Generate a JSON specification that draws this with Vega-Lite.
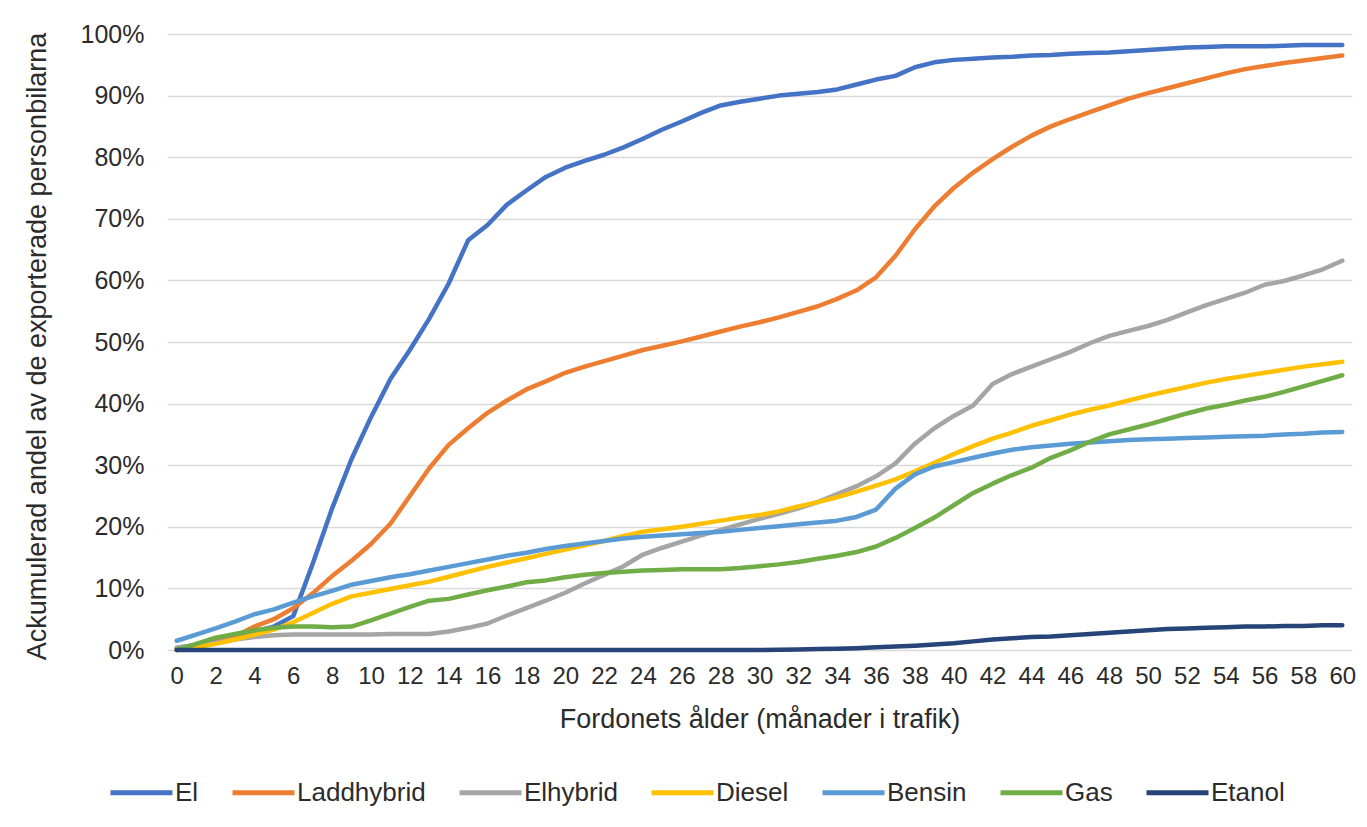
{
"$schema": "https://vega.github.io/schema/vega-lite/v6.json",
"width": 1185, "height": 616,
"autosize": {"type": "none"},
"padding": {"left": 167, "top": 34, "right": 15, "bottom": 177},
"background": "white",
"config": {"view": {"stroke": null}, "font": "Liberation Sans"},
"data": {"values": [
{"m":0,"s":"El","v":0.3},{"m":1,"s":"El","v":0.8},{"m":2,"s":"El","v":1.5},{"m":3,"s":"El","v":2.3},{"m":4,"s":"El","v":3.0},{"m":5,"s":"El","v":3.8},{"m":6,"s":"El","v":5.5},{"m":7,"s":"El","v":14},{"m":8,"s":"El","v":23},{"m":9,"s":"El","v":31},{"m":10,"s":"El","v":37.8},{"m":11,"s":"El","v":44},{"m":12,"s":"El","v":48.7},{"m":13,"s":"El","v":53.8},{"m":14,"s":"El","v":59.5},{"m":15,"s":"El","v":66.5},{"m":16,"s":"El","v":69},{"m":17,"s":"El","v":72.3},{"m":18,"s":"El","v":74.6},{"m":19,"s":"El","v":76.8},{"m":20,"s":"El","v":78.3},{"m":21,"s":"El","v":79.4},{"m":22,"s":"El","v":80.4},{"m":23,"s":"El","v":81.6},{"m":24,"s":"El","v":83},{"m":25,"s":"El","v":84.5},{"m":26,"s":"El","v":85.8},{"m":27,"s":"El","v":87.2},{"m":28,"s":"El","v":88.4},{"m":29,"s":"El","v":89},{"m":30,"s":"El","v":89.5},{"m":31,"s":"El","v":90},{"m":32,"s":"El","v":90.3},{"m":33,"s":"El","v":90.6},{"m":34,"s":"El","v":91},{"m":35,"s":"El","v":91.8},{"m":36,"s":"El","v":92.6},{"m":37,"s":"El","v":93.2},{"m":38,"s":"El","v":94.6},{"m":39,"s":"El","v":95.4},{"m":40,"s":"El","v":95.8},{"m":41,"s":"El","v":96},{"m":42,"s":"El","v":96.2},{"m":43,"s":"El","v":96.3},{"m":44,"s":"El","v":96.5},{"m":45,"s":"El","v":96.6},{"m":46,"s":"El","v":96.8},{"m":47,"s":"El","v":96.9},{"m":48,"s":"El","v":97},{"m":49,"s":"El","v":97.2},{"m":50,"s":"El","v":97.4},{"m":51,"s":"El","v":97.6},{"m":52,"s":"El","v":97.8},{"m":53,"s":"El","v":97.9},{"m":54,"s":"El","v":98},{"m":55,"s":"El","v":98},{"m":56,"s":"El","v":98},{"m":57,"s":"El","v":98.1},{"m":58,"s":"El","v":98.2},{"m":59,"s":"El","v":98.2},{"m":60,"s":"El","v":98.2},
{"m":0,"s":"Laddhybrid","v":0},{"m":1,"s":"Laddhybrid","v":0.5},{"m":2,"s":"Laddhybrid","v":1.2},{"m":3,"s":"Laddhybrid","v":2.2},{"m":4,"s":"Laddhybrid","v":3.8},{"m":5,"s":"Laddhybrid","v":5},{"m":6,"s":"Laddhybrid","v":6.8},{"m":7,"s":"Laddhybrid","v":9.2},{"m":8,"s":"Laddhybrid","v":12},{"m":9,"s":"Laddhybrid","v":14.5},{"m":10,"s":"Laddhybrid","v":17.2},{"m":11,"s":"Laddhybrid","v":20.5},{"m":12,"s":"Laddhybrid","v":25},{"m":13,"s":"Laddhybrid","v":29.5},{"m":14,"s":"Laddhybrid","v":33.3},{"m":15,"s":"Laddhybrid","v":36},{"m":16,"s":"Laddhybrid","v":38.5},{"m":17,"s":"Laddhybrid","v":40.5},{"m":18,"s":"Laddhybrid","v":42.3},{"m":19,"s":"Laddhybrid","v":43.6},{"m":20,"s":"Laddhybrid","v":45},{"m":21,"s":"Laddhybrid","v":46},{"m":22,"s":"Laddhybrid","v":46.9},{"m":23,"s":"Laddhybrid","v":47.8},{"m":24,"s":"Laddhybrid","v":48.7},{"m":25,"s":"Laddhybrid","v":49.4},{"m":26,"s":"Laddhybrid","v":50.1},{"m":27,"s":"Laddhybrid","v":50.9},{"m":28,"s":"Laddhybrid","v":51.7},{"m":29,"s":"Laddhybrid","v":52.5},{"m":30,"s":"Laddhybrid","v":53.2},{"m":31,"s":"Laddhybrid","v":54},{"m":32,"s":"Laddhybrid","v":54.9},{"m":33,"s":"Laddhybrid","v":55.8},{"m":34,"s":"Laddhybrid","v":57},{"m":35,"s":"Laddhybrid","v":58.4},{"m":36,"s":"Laddhybrid","v":60.5},{"m":37,"s":"Laddhybrid","v":64},{"m":38,"s":"Laddhybrid","v":68.3},{"m":39,"s":"Laddhybrid","v":72},{"m":40,"s":"Laddhybrid","v":75},{"m":41,"s":"Laddhybrid","v":77.5},{"m":42,"s":"Laddhybrid","v":79.7},{"m":43,"s":"Laddhybrid","v":81.7},{"m":44,"s":"Laddhybrid","v":83.5},{"m":45,"s":"Laddhybrid","v":85},{"m":46,"s":"Laddhybrid","v":86.2},{"m":47,"s":"Laddhybrid","v":87.3},{"m":48,"s":"Laddhybrid","v":88.4},{"m":49,"s":"Laddhybrid","v":89.5},{"m":50,"s":"Laddhybrid","v":90.4},{"m":51,"s":"Laddhybrid","v":91.2},{"m":52,"s":"Laddhybrid","v":92},{"m":53,"s":"Laddhybrid","v":92.8},{"m":54,"s":"Laddhybrid","v":93.6},{"m":55,"s":"Laddhybrid","v":94.3},{"m":56,"s":"Laddhybrid","v":94.8},{"m":57,"s":"Laddhybrid","v":95.3},{"m":58,"s":"Laddhybrid","v":95.7},{"m":59,"s":"Laddhybrid","v":96.1},{"m":60,"s":"Laddhybrid","v":96.5},
{"m":0,"s":"Elhybrid","v":0.4},{"m":1,"s":"Elhybrid","v":0.8},{"m":2,"s":"Elhybrid","v":1.2},{"m":3,"s":"Elhybrid","v":1.7},{"m":4,"s":"Elhybrid","v":2.1},{"m":5,"s":"Elhybrid","v":2.4},{"m":6,"s":"Elhybrid","v":2.5},{"m":7,"s":"Elhybrid","v":2.5},{"m":8,"s":"Elhybrid","v":2.5},{"m":9,"s":"Elhybrid","v":2.5},{"m":10,"s":"Elhybrid","v":2.5},{"m":11,"s":"Elhybrid","v":2.6},{"m":12,"s":"Elhybrid","v":2.6},{"m":13,"s":"Elhybrid","v":2.6},{"m":14,"s":"Elhybrid","v":3},{"m":15,"s":"Elhybrid","v":3.6},{"m":16,"s":"Elhybrid","v":4.3},{"m":17,"s":"Elhybrid","v":5.6},{"m":18,"s":"Elhybrid","v":6.8},{"m":19,"s":"Elhybrid","v":8},{"m":20,"s":"Elhybrid","v":9.3},{"m":21,"s":"Elhybrid","v":10.8},{"m":22,"s":"Elhybrid","v":12.2},{"m":23,"s":"Elhybrid","v":13.6},{"m":24,"s":"Elhybrid","v":15.5},{"m":25,"s":"Elhybrid","v":16.6},{"m":26,"s":"Elhybrid","v":17.6},{"m":27,"s":"Elhybrid","v":18.6},{"m":28,"s":"Elhybrid","v":19.5},{"m":29,"s":"Elhybrid","v":20.4},{"m":30,"s":"Elhybrid","v":21.3},{"m":31,"s":"Elhybrid","v":22.1},{"m":32,"s":"Elhybrid","v":23},{"m":33,"s":"Elhybrid","v":24},{"m":34,"s":"Elhybrid","v":25.3},{"m":35,"s":"Elhybrid","v":26.6},{"m":36,"s":"Elhybrid","v":28.2},{"m":37,"s":"Elhybrid","v":30.3},{"m":38,"s":"Elhybrid","v":33.5},{"m":39,"s":"Elhybrid","v":36},{"m":40,"s":"Elhybrid","v":38},{"m":41,"s":"Elhybrid","v":39.7},{"m":42,"s":"Elhybrid","v":43.2},{"m":43,"s":"Elhybrid","v":44.8},{"m":44,"s":"Elhybrid","v":46},{"m":45,"s":"Elhybrid","v":47.2},{"m":46,"s":"Elhybrid","v":48.4},{"m":47,"s":"Elhybrid","v":49.8},{"m":48,"s":"Elhybrid","v":51},{"m":49,"s":"Elhybrid","v":51.8},{"m":50,"s":"Elhybrid","v":52.6},{"m":51,"s":"Elhybrid","v":53.6},{"m":52,"s":"Elhybrid","v":54.8},{"m":53,"s":"Elhybrid","v":56},{"m":54,"s":"Elhybrid","v":57},{"m":55,"s":"Elhybrid","v":58},{"m":56,"s":"Elhybrid","v":59.3},{"m":57,"s":"Elhybrid","v":59.9},{"m":58,"s":"Elhybrid","v":60.8},{"m":59,"s":"Elhybrid","v":61.8},{"m":60,"s":"Elhybrid","v":63.2},
{"m":0,"s":"Diesel","v":0},{"m":1,"s":"Diesel","v":0.4},{"m":2,"s":"Diesel","v":1},{"m":3,"s":"Diesel","v":1.7},{"m":4,"s":"Diesel","v":2.5},{"m":5,"s":"Diesel","v":3.3},{"m":6,"s":"Diesel","v":4.5},{"m":7,"s":"Diesel","v":6},{"m":8,"s":"Diesel","v":7.5},{"m":9,"s":"Diesel","v":8.7},{"m":10,"s":"Diesel","v":9.3},{"m":11,"s":"Diesel","v":9.9},{"m":12,"s":"Diesel","v":10.5},{"m":13,"s":"Diesel","v":11.1},{"m":14,"s":"Diesel","v":11.9},{"m":15,"s":"Diesel","v":12.7},{"m":16,"s":"Diesel","v":13.5},{"m":17,"s":"Diesel","v":14.2},{"m":18,"s":"Diesel","v":14.9},{"m":19,"s":"Diesel","v":15.6},{"m":20,"s":"Diesel","v":16.3},{"m":21,"s":"Diesel","v":17},{"m":22,"s":"Diesel","v":17.7},{"m":23,"s":"Diesel","v":18.5},{"m":24,"s":"Diesel","v":19.2},{"m":25,"s":"Diesel","v":19.6},{"m":26,"s":"Diesel","v":20},{"m":27,"s":"Diesel","v":20.5},{"m":28,"s":"Diesel","v":21},{"m":29,"s":"Diesel","v":21.5},{"m":30,"s":"Diesel","v":21.9},{"m":31,"s":"Diesel","v":22.5},{"m":32,"s":"Diesel","v":23.3},{"m":33,"s":"Diesel","v":24},{"m":34,"s":"Diesel","v":24.8},{"m":35,"s":"Diesel","v":25.7},{"m":36,"s":"Diesel","v":26.7},{"m":37,"s":"Diesel","v":27.7},{"m":38,"s":"Diesel","v":29},{"m":39,"s":"Diesel","v":30.4},{"m":40,"s":"Diesel","v":31.8},{"m":41,"s":"Diesel","v":33.1},{"m":42,"s":"Diesel","v":34.3},{"m":43,"s":"Diesel","v":35.3},{"m":44,"s":"Diesel","v":36.4},{"m":45,"s":"Diesel","v":37.3},{"m":46,"s":"Diesel","v":38.2},{"m":47,"s":"Diesel","v":39},{"m":48,"s":"Diesel","v":39.7},{"m":49,"s":"Diesel","v":40.5},{"m":50,"s":"Diesel","v":41.3},{"m":51,"s":"Diesel","v":42},{"m":52,"s":"Diesel","v":42.7},{"m":53,"s":"Diesel","v":43.4},{"m":54,"s":"Diesel","v":44},{"m":55,"s":"Diesel","v":44.5},{"m":56,"s":"Diesel","v":45},{"m":57,"s":"Diesel","v":45.5},{"m":58,"s":"Diesel","v":46},{"m":59,"s":"Diesel","v":46.4},{"m":60,"s":"Diesel","v":46.8},
{"m":0,"s":"Bensin","v":1.5},{"m":1,"s":"Bensin","v":2.5},{"m":2,"s":"Bensin","v":3.5},{"m":3,"s":"Bensin","v":4.6},{"m":4,"s":"Bensin","v":5.8},{"m":5,"s":"Bensin","v":6.6},{"m":6,"s":"Bensin","v":7.7},{"m":7,"s":"Bensin","v":8.7},{"m":8,"s":"Bensin","v":9.6},{"m":9,"s":"Bensin","v":10.6},{"m":10,"s":"Bensin","v":11.2},{"m":11,"s":"Bensin","v":11.8},{"m":12,"s":"Bensin","v":12.3},{"m":13,"s":"Bensin","v":12.9},{"m":14,"s":"Bensin","v":13.5},{"m":15,"s":"Bensin","v":14.1},{"m":16,"s":"Bensin","v":14.7},{"m":17,"s":"Bensin","v":15.3},{"m":18,"s":"Bensin","v":15.8},{"m":19,"s":"Bensin","v":16.4},{"m":20,"s":"Bensin","v":16.9},{"m":21,"s":"Bensin","v":17.3},{"m":22,"s":"Bensin","v":17.7},{"m":23,"s":"Bensin","v":18.1},{"m":24,"s":"Bensin","v":18.4},{"m":25,"s":"Bensin","v":18.6},{"m":26,"s":"Bensin","v":18.8},{"m":27,"s":"Bensin","v":19},{"m":28,"s":"Bensin","v":19.2},{"m":29,"s":"Bensin","v":19.5},{"m":30,"s":"Bensin","v":19.8},{"m":31,"s":"Bensin","v":20.1},{"m":32,"s":"Bensin","v":20.4},{"m":33,"s":"Bensin","v":20.7},{"m":34,"s":"Bensin","v":21},{"m":35,"s":"Bensin","v":21.6},{"m":36,"s":"Bensin","v":22.8},{"m":37,"s":"Bensin","v":26.2},{"m":38,"s":"Bensin","v":28.5},{"m":39,"s":"Bensin","v":29.8},{"m":40,"s":"Bensin","v":30.5},{"m":41,"s":"Bensin","v":31.2},{"m":42,"s":"Bensin","v":31.9},{"m":43,"s":"Bensin","v":32.5},{"m":44,"s":"Bensin","v":32.9},{"m":45,"s":"Bensin","v":33.2},{"m":46,"s":"Bensin","v":33.5},{"m":47,"s":"Bensin","v":33.7},{"m":48,"s":"Bensin","v":33.9},{"m":49,"s":"Bensin","v":34.1},{"m":50,"s":"Bensin","v":34.2},{"m":51,"s":"Bensin","v":34.3},{"m":52,"s":"Bensin","v":34.4},{"m":53,"s":"Bensin","v":34.5},{"m":54,"s":"Bensin","v":34.6},{"m":55,"s":"Bensin","v":34.7},{"m":56,"s":"Bensin","v":34.8},{"m":57,"s":"Bensin","v":35},{"m":58,"s":"Bensin","v":35.1},{"m":59,"s":"Bensin","v":35.3},{"m":60,"s":"Bensin","v":35.4},
{"m":0,"s":"Gas","v":0},{"m":1,"s":"Gas","v":1},{"m":2,"s":"Gas","v":2},{"m":3,"s":"Gas","v":2.6},{"m":4,"s":"Gas","v":3.2},{"m":5,"s":"Gas","v":3.6},{"m":6,"s":"Gas","v":3.8},{"m":7,"s":"Gas","v":3.8},{"m":8,"s":"Gas","v":3.7},{"m":9,"s":"Gas","v":3.8},{"m":10,"s":"Gas","v":4.8},{"m":11,"s":"Gas","v":5.9},{"m":12,"s":"Gas","v":7},{"m":13,"s":"Gas","v":8},{"m":14,"s":"Gas","v":8.3},{"m":15,"s":"Gas","v":9},{"m":16,"s":"Gas","v":9.7},{"m":17,"s":"Gas","v":10.3},{"m":18,"s":"Gas","v":11},{"m":19,"s":"Gas","v":11.3},{"m":20,"s":"Gas","v":11.8},{"m":21,"s":"Gas","v":12.2},{"m":22,"s":"Gas","v":12.5},{"m":23,"s":"Gas","v":12.7},{"m":24,"s":"Gas","v":12.9},{"m":25,"s":"Gas","v":13},{"m":26,"s":"Gas","v":13.1},{"m":27,"s":"Gas","v":13.1},{"m":28,"s":"Gas","v":13.1},{"m":29,"s":"Gas","v":13.3},{"m":30,"s":"Gas","v":13.6},{"m":31,"s":"Gas","v":13.9},{"m":32,"s":"Gas","v":14.3},{"m":33,"s":"Gas","v":14.8},{"m":34,"s":"Gas","v":15.3},{"m":35,"s":"Gas","v":15.9},{"m":36,"s":"Gas","v":16.8},{"m":37,"s":"Gas","v":18.2},{"m":38,"s":"Gas","v":19.8},{"m":39,"s":"Gas","v":21.5},{"m":40,"s":"Gas","v":23.5},{"m":41,"s":"Gas","v":25.5},{"m":42,"s":"Gas","v":27},{"m":43,"s":"Gas","v":28.4},{"m":44,"s":"Gas","v":29.6},{"m":45,"s":"Gas","v":31.2},{"m":46,"s":"Gas","v":32.4},{"m":47,"s":"Gas","v":33.8},{"m":48,"s":"Gas","v":35},{"m":49,"s":"Gas","v":35.8},{"m":50,"s":"Gas","v":36.6},{"m":51,"s":"Gas","v":37.5},{"m":52,"s":"Gas","v":38.4},{"m":53,"s":"Gas","v":39.2},{"m":54,"s":"Gas","v":39.8},{"m":55,"s":"Gas","v":40.5},{"m":56,"s":"Gas","v":41.1},{"m":57,"s":"Gas","v":41.9},{"m":58,"s":"Gas","v":42.8},{"m":59,"s":"Gas","v":43.7},{"m":60,"s":"Gas","v":44.6},
{"m":0,"s":"Etanol","v":0},{"m":1,"s":"Etanol","v":0},{"m":2,"s":"Etanol","v":0},{"m":3,"s":"Etanol","v":0},{"m":4,"s":"Etanol","v":0},{"m":5,"s":"Etanol","v":0},{"m":6,"s":"Etanol","v":0},{"m":7,"s":"Etanol","v":0},{"m":8,"s":"Etanol","v":0},{"m":9,"s":"Etanol","v":0},{"m":10,"s":"Etanol","v":0},{"m":11,"s":"Etanol","v":0},{"m":12,"s":"Etanol","v":0},{"m":13,"s":"Etanol","v":0},{"m":14,"s":"Etanol","v":0},{"m":15,"s":"Etanol","v":0},{"m":16,"s":"Etanol","v":0},{"m":17,"s":"Etanol","v":0},{"m":18,"s":"Etanol","v":0},{"m":19,"s":"Etanol","v":0},{"m":20,"s":"Etanol","v":0},{"m":21,"s":"Etanol","v":0},{"m":22,"s":"Etanol","v":0},{"m":23,"s":"Etanol","v":0},{"m":24,"s":"Etanol","v":0},{"m":25,"s":"Etanol","v":0},{"m":26,"s":"Etanol","v":0},{"m":27,"s":"Etanol","v":0},{"m":28,"s":"Etanol","v":0},{"m":29,"s":"Etanol","v":0},{"m":30,"s":"Etanol","v":0},{"m":31,"s":"Etanol","v":0.05},{"m":32,"s":"Etanol","v":0.1},{"m":33,"s":"Etanol","v":0.15},{"m":34,"s":"Etanol","v":0.2},{"m":35,"s":"Etanol","v":0.3},{"m":36,"s":"Etanol","v":0.45},{"m":37,"s":"Etanol","v":0.55},{"m":38,"s":"Etanol","v":0.7},{"m":39,"s":"Etanol","v":0.9},{"m":40,"s":"Etanol","v":1.1},{"m":41,"s":"Etanol","v":1.4},{"m":42,"s":"Etanol","v":1.7},{"m":43,"s":"Etanol","v":1.9},{"m":44,"s":"Etanol","v":2.1},{"m":45,"s":"Etanol","v":2.2},{"m":46,"s":"Etanol","v":2.4},{"m":47,"s":"Etanol","v":2.6},{"m":48,"s":"Etanol","v":2.8},{"m":49,"s":"Etanol","v":3.0},{"m":50,"s":"Etanol","v":3.2},{"m":51,"s":"Etanol","v":3.4},{"m":52,"s":"Etanol","v":3.5},{"m":53,"s":"Etanol","v":3.6},{"m":54,"s":"Etanol","v":3.7},{"m":55,"s":"Etanol","v":3.8},{"m":56,"s":"Etanol","v":3.8},{"m":57,"s":"Etanol","v":3.9},{"m":58,"s":"Etanol","v":3.9},{"m":59,"s":"Etanol","v":4.0},{"m":60,"s":"Etanol","v":4.0}
]},
"mark": {"type": "line", "strokeWidth": 4.5, "strokeCap": "round", "strokeJoin": "round"},
"encoding": {
  "x": {"field": "m", "type": "quantitative",
    "scale": {"domain": [-0.5, 60.5], "nice": false, "zero": false},
    "axis": {"values": [0,2,4,6,8,10,12,14,16,18,20,22,24,26,28,30,32,34,36,38,40,42,44,46,48,50,52,54,56,58,60],
      "title": "Fordonets ålder (månader i trafik)", "grid": false, "domain": false, "ticks": false,
      "labelFontSize": 24, "labelColor": "#2b2b2b", "labelPadding": 14, "labelFlush": false, "labelOverlap": false,
      "titleFontSize": 27, "titleFontWeight": "normal", "titleColor": "#2b2b2b", "titleY": 77, "titleBaseline": "alphabetic"}},
  "y": {"field": "v", "type": "quantitative",
    "scale": {"domain": [0, 100], "nice": false},
    "axis": {"values": [0,10,20,30,40,50,60,70,80,90,100], "labelExpr": "datum.value + '%'",
      "title": "Ackumulerad andel av de exporterade personbilarna", "grid": true, "gridColor": "#d9d9d9", "gridWidth": 1.5,
      "domain": false, "ticks": false, "labelFontSize": 25, "labelPadding": 23, "labelColor": "#2b2b2b",
      "titleFontSize": 27, "titleFontWeight": "normal", "titleColor": "#2b2b2b", "titleX": -122, "titleY": 312,
      "titleBaseline": "alphabetic", "titleAngle": 270}},
  "color": {"field": "s", "type": "nominal",
    "scale": {"domain": ["El","Laddhybrid","Elhybrid","Diesel","Bensin","Gas","Etanol"],
      "range": ["#4472C4","#ED7D31","#A5A5A5","#FFC000","#5B9BD5","#70AD47","#264478"]},
    "legend": {"title": null, "orient": "none", "legendX": -59, "legendY": 725, "direction": "horizontal", "columns": 7,
      "symbolType": "stroke", "symbolSize": 3844, "symbolStrokeWidth": 5, "labelFontSize": 26, "labelColor": "#2b2b2b",
      "labelOffset": 0, "columnPadding": 23, "padding": 0}}
}
}
